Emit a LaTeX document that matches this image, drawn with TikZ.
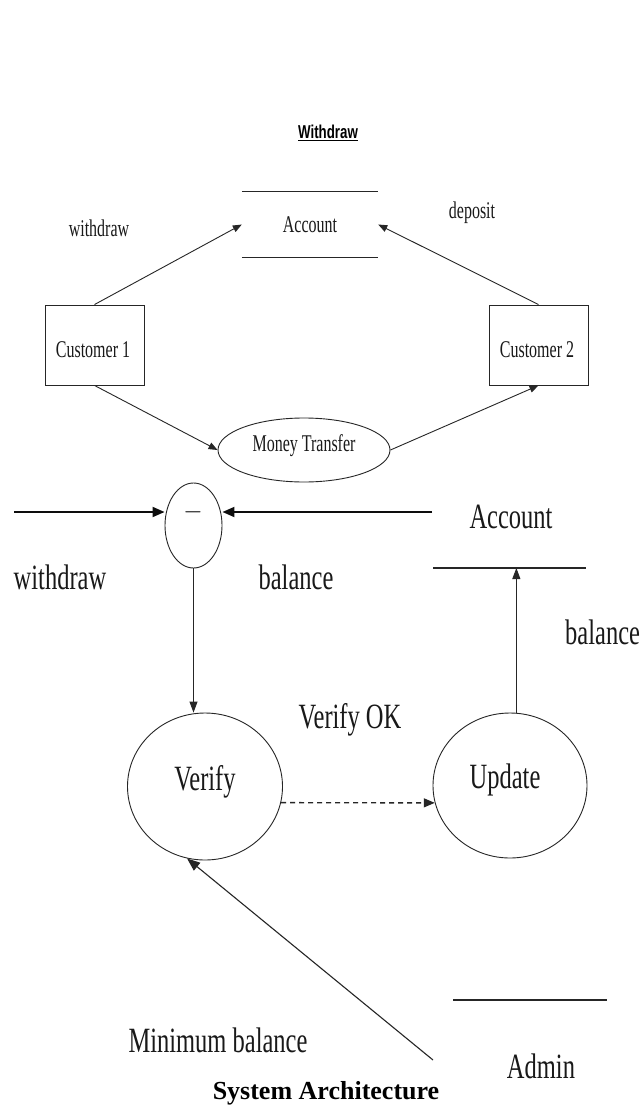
\documentclass[tikz,border=0pt]{standalone}
\usepackage{fontspec}
\setmainfont{Liberation Serif}
\setsansfont{Liberation Sans}
\usetikzlibrary{arrows.meta,shapes.geometric}
\newcommand{\stS}[1]{\scalebox{1}[1.5]{#1}}
\newcommand{\stL}[1]{\scalebox{1}[1.45]{#1}}
\begin{document}
\begin{tikzpicture}[x=1pt,y=-1pt,
  ln/.style={draw=black!85, line width=0.9pt},
  arr/.style={ln, -{Triangle[length=11pt,width=8pt]}},
  thickarr/.style={draw=black!95, line width=1.8pt, -{Triangle[length=12pt,width=10pt]}},
  sm/.style={font=\fontsize{16}{18}\selectfont, inner sep=0pt, text=black!90},
  lg/.style={font=\fontsize{24.5}{26}\selectfont, inner sep=0pt, text=black!90},
  box/.style={ln, minimum width=99pt, minimum height=80pt, inner sep=0pt},
  proc/.style={ln, ellipse, inner sep=0pt}]
\useasboundingbox[fill=white] (0,0) rectangle (640,1108);

% ---------- upper diagram ----------
\node (title) at (328,133) {\sffamily\bfseries\fontsize{13.3}{15}\selectfont\scalebox{1}[1.4]{\underline{Withdraw}}};

\node[sm, minimum width=136pt, minimum height=65pt] (acc1) at (310,224.5) {\stS{Account}};
\draw[ln] (acc1.north west) -- (acc1.north east);
\draw[ln] (acc1.south west) -- (acc1.south east);

\node[sm] (lw1) at (99,228) {\stS{withdraw}};
\node[sm] (ld1) at (472,213) {\stS{deposit}};

\node[box] (c1) at (94.5,345) {};
\node[sm] (c1t) at (93,350) {\stS{Customer 1}};
\node[box] (c2) at (538.5,345) {};
\node[sm] (c2t) at (537,350) {\stS{Customer 2}};

\node[proc, minimum width=172pt, minimum height=64pt] (mt) at (304,450) {};
\node[sm] (mtt) at (304,446) {\stS{Money Transfer}};

\draw[arr, -{Triangle[length=9pt,width=7pt]}] (c1.north) -- (acc1.west);
\draw[arr, -{Triangle[length=9pt,width=7pt]}] (c2.north) -- (acc1.east);
\draw[arr, -{Triangle[length=9pt,width=7pt]}] (c1.south) -- (mt.west);
\draw[arr, -{Triangle[length=9pt,width=7pt]}] (mt.east) -- (c2.south);

% ---------- lower diagram ----------
\node[proc, minimum width=57pt, minimum height=85pt] (circ) at (193.5,525.5) {};
\node[inner sep=0pt, font=\fontsize{24}{26}\selectfont] (minus) at (193,512) {$-$};

\coordinate (inL) at (14,512);
\coordinate (accR) at (432,512);
\draw[thickarr] (inL) -- (inL -| circ.west);
\draw[thickarr] (accR) -- (accR -| circ.east);

\node[lg] (acc2) at (511,517) {\stL{Account}};
\coordinate (al1) at (433,568);
\coordinate (al2) at (586,568);
\draw[ln, line width=1.2pt] (al1) -- (al2);

\node[lg] (lw2) at (60,577) {\stL{withdraw}};
\node[lg] (lb1) at (296,577) {\stL{balance}};
\node[lg, anchor=west] (lb2) at (565,632) {\stL{balance}};
\node[lg] (lok) at (350,720) {\stL{Verify OK}};

\node[proc, minimum width=155pt, minimum height=147pt] (ver) at (205,786.5) {};
\node[lg] (vert) at (205,782) {\stL{Verify}};
\node[proc, minimum width=154pt, minimum height=145pt] (upd) at (510,785.5) {};
\node[lg] (updt) at (505,780) {\stL{Update}};

\draw[arr] (circ.south) -- (ver.north -| circ.south);
\draw[arr] (upd.85) -- (upd.85 |- al1);
\draw[arr, dash pattern=on 5pt off 4pt, line width=1.4pt, -{Triangle[length=11pt,width=9pt]}] (ver.-12) -- (upd.193);

\coordinate (admS) at (433,1060);
\draw[arr, line width=1.1pt, -{Triangle[length=13pt,width=10pt]}] (admS) -- (ver.256);

\coordinate (ad1) at (453,1000);
\coordinate (ad2) at (607,1000);
\draw[ln, line width=1.2pt] (ad1) -- (ad2);
\node[lg] (adm) at (541,1066) {\stL{Admin}};
\node[lg] (minb) at (218,1040) {\stL{Minimum balance}};

\node[inner sep=0pt, font=\bfseries\fontsize{26}{28}\selectfont] (cap) at (326,1093) {System Architecture};
\end{tikzpicture}
\end{document}
